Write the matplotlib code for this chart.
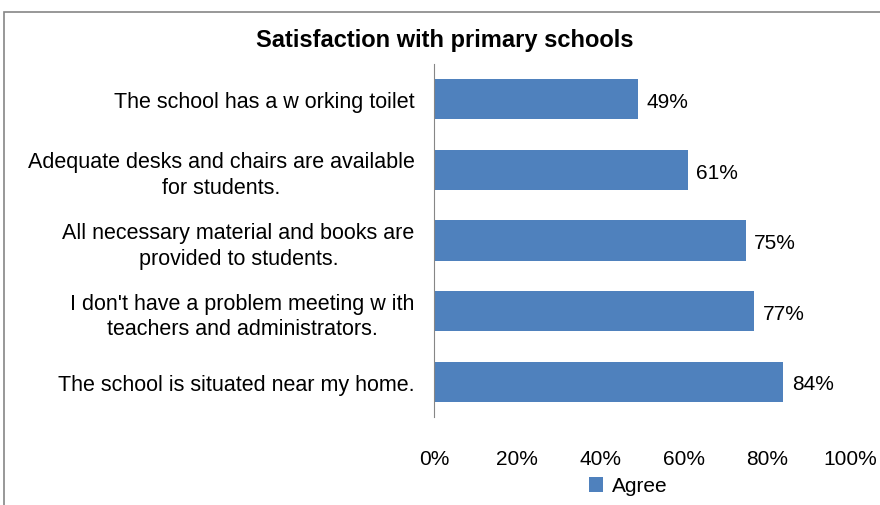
import matplotlib.pyplot as plt
from matplotlib.patches import Rectangle

plt.rcParams['font.family'] = ['Liberation Sans', 'DejaVu Sans']

# survey items, top to bottom
items = [
    "The school has a w orking toilet",
    "Adequate desks and chairs are available\nfor students.",
    "All necessary material and books are\nprovided to students.",
    "I don't have a problem meeting w ith\nteachers and administrators.",
    "The school is situated near my home.",
]
agree = [49, 61, 75, 77, 84]
xticks = [0, 20, 40, 60, 80, 100]

W, H = 880, 506
fig = plt.figure(figsize=(W / 100, H / 100), dpi=100)
ax = fig.add_axes([434 / W, 1 - 418 / H, (850 - 434) / W, (418 - 65) / H])

pos = list(range(len(items)))
bars = ax.barh(pos, agree, height=0.57, color='#4F81BD', label='Agree')
for y, v in zip(pos, agree):
    ax.text(v + 2, y + 0.03, f"{v}%", va='center', ha='left', fontsize=15)

ax.set_ylim(len(items) - 0.5, -0.5)
ax.set_xlim(0, 100)
ax.set_yticks(pos)
ax.set_yticklabels(items, fontsize=15.5, multialignment='center', linespacing=1.3)
ax.set_xticks(xticks)
ax.set_xticklabels([f"{t}%" for t in xticks], fontsize=15)
ax.tick_params(axis='y', length=0, pad=14)
ax.tick_params(axis='x', length=0, pad=23)

for s in ['top', 'right', 'bottom']:
    ax.spines[s].set_visible(False)
ax.spines['left'].set_color('#868686')

fig.text(445 / W, 1 - 41 / H, "Satisfaction with primary schools",
         ha='center', va='center', fontsize=17, fontweight='bold')

fig.legend(handles=[bars], labels=['Agree'], loc='center',
           bbox_to_anchor=(628 / W, 1 - 487 / H), frameon=False,
           fontsize=15, handlelength=0.7, handleheight=0.7, handletextpad=0.4)

# chart frame
fig.patches.append(Rectangle((4 / W, -0.1), 1.2, 1 - 13 / H + 0.1, fill=False,
                             edgecolor='#868686', lw=1.2,
                             transform=fig.transFigure, figure=fig))

fig.savefig('out.png', dpi=100)
